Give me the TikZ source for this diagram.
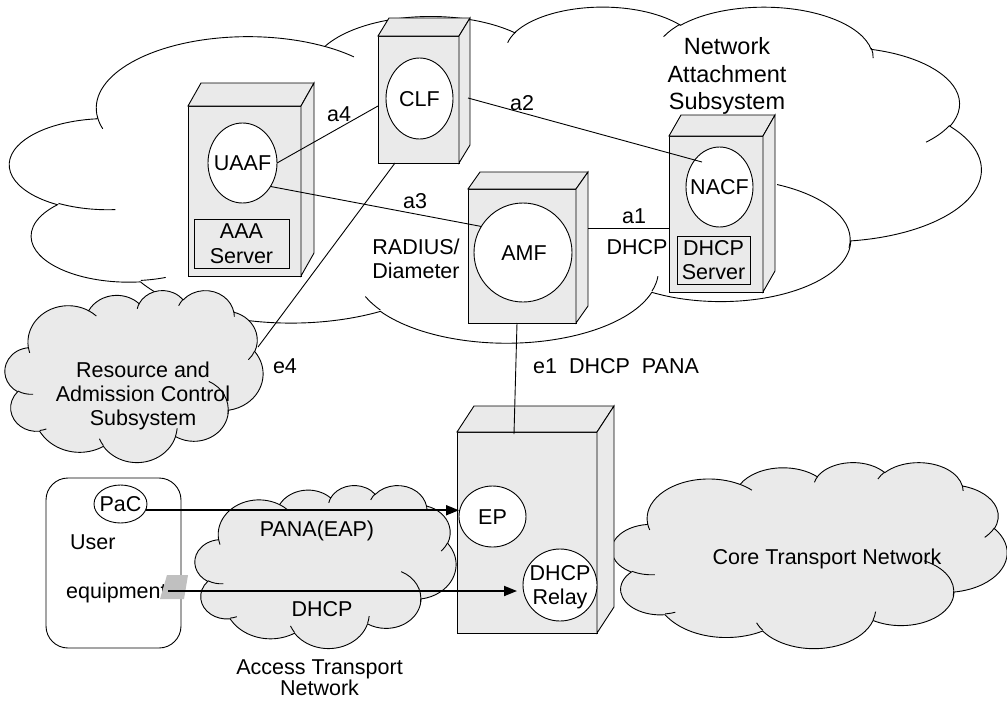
\documentclass[tikz,border=0pt]{standalone}
\usepackage{fontspec}
\setmainfont{Liberation Sans}
\usetikzlibrary{shapes.geometric,arrows.meta,calc}
\definecolor{boxgray}{RGB}{234,234,234}
\definecolor{chipgray}{RGB}{192,192,192}
\tikzset{
  carc/.style n args={4}{insert path={arc[start angle={atan2((#1)*sin(#3),(#2)*cos(#3))},
     delta angle={mod(atan2((#1)*sin((#3)+(#4)),(#2)*cos((#3)+(#4)))-atan2((#1)*sin(#3),(#2)*cos(#3))+720,360)},
     x radius=#1, y radius=#2]}},
  ln/.style={line width=0.9pt, draw=black},
  front/.style={ln, fill=boxgray, rectangle, inner sep=0pt, outer sep=0pt},
  face/.style={ln, fill=boxgray, line join=miter},
  func/.style={ln, fill=white, ellipse, inner sep=0pt, outer sep=0pt},
  tx/.style={font=\fontsize{21.5}{24}\selectfont, inner sep=0pt, align=center},
  one/.style={tx, text height=15.4pt, text depth=0pt},
  arr/.style={line width=1.8pt, -{Triangle[length=13pt,width=10pt]}},
}
\newcommand\ofcloud[6]{%
\begin{scope}[xshift=#2pt, yshift=-#3pt, x={(#4pt/432,0pt)}, y={(0pt,-#5pt/432)}]
\draw[ln, fill=#6] (39,143.7)
 [carc={67.53}{91.90}{-190.4875}{123.7805}]
 [carc={53.33}{72.67}{-144.1024}{89.9452}]
 [carc={43.65}{59.45}{-145.8079}{99.7230}]
 [carc={48.57}{65.95}{-130.9861}{117.2417}]
 [carc={53.33}{72.73}{-78.7089}{109.0269}]
 [carc={67.75}{92.20}{-46.2673}{130.2690}]
 [carc={57.85}{78.67}{0.6250}{114.0333}]
 [carc={67.52}{92.15}{22.4516}{115.1726}]
 [carc={77.20}{105.43}{66.2426}{75.7110}]
 [carc={43.60}{59.18}{-274.9421}{146.7356}]
 [carc={43.45}{59.45}{-246.8285}{152.5189}] -- cycle;
\draw[ln]
 (46.93,261.77) [carc={43.45}{59.45}{86.7420}{26.4295}]
 (69.28,348.99) [carc={43.60}{59.18}{73.6105}{11.4475}]
 (164.78,390.90) [carc={67.52}{92.15}{137.6242}{14.0811}]
 (288.27,347.51) [carc={67.52}{92.15}{6.4533}{15.9984}]
 (341.29,229.54) [carc={57.85}{78.67}{-70.2924}{80.7582}]
 (417.98,153.54) [carc={53.33}{72.73}{30.3215}{22.1031}]
 (383.24,54.26) [carc={48.57}{65.95}{-13.7443}{14.8620}]
 (290.78,39.52) [carc={48.57}{65.95}{-149.1815}{18.1969}]
 (221.41,47.20) [carc={43.65}{59.45}{-163.4943}{17.6981}]
 (140.00,51.92) [carc={67.53}{91.90}{-66.7069}{12.3194}]
 (41.27,157.89) [carc={67.53}{91.90}{157.6544}{11.8582}];
\coordinate (#1) at (216,216);
\end{scope}}
\newcommand\server[6]{%
\node[front, minimum width=#4pt, minimum height=#5pt] (#1) at (#2,#3) {};
\draw[face] (#1.north west) -- ++(#6) -- ($(#1.north east)+(#6)$) -- (#1.north east) -- cycle;
\draw[face] (#1.north east) -- ++(#6) -- ($(#1.south east)+(#6)$) -- (#1.south east) -- cycle;
}
\begin{document}
\begin{tikzpicture}[x=1pt,y=-1pt]
\fill[white] (0,0) rectangle (1007,702);
\useasboundingbox (0,0) rectangle (1007,702);

% clouds
\ofcloud{nas}{10}{6}{971}{336}{white}
\ofcloud{racs}{5}{290}{258}{172}{boxgray}
\ofcloud{atn}{195}{485}{261}{163}{boxgray}
\ofcloud{ctn}{612}{462}{395}{186}{boxgray}

% servers
\server{uaafbox}{244.5}{191}{113}{170}{13,-23}
\server{clfbox}{418.5}{99.5}{81}{127}{11,-18}
\server{nacfbox}{716}{214}{94}{156}{12,-21}
\server{amfbox}{522}{256}{108}{134}{12,-17}
\server{epbox}{527}{532.5}{140}{201}{17,-26}

\node[func, minimum width=69pt, minimum height=80pt] (uaaf) at (242.5,163) {};
\node[one] at (242.5,163) {UAAF};
\node[front, minimum width=95pt, minimum height=49pt] (aaa) at (241.5,243.5) {};
\node[tx, font=\fontsize{21.5}{24.5}\selectfont] at (241.5,243.5) {AAA\\Server};

\node[func, minimum width=67pt, minimum height=81pt] (clf) at (419.5,98.5) {};
\node[one] at (419.5,98.5) {CLF};

\node[func, minimum width=67pt, minimum height=80pt] (nacf) at (719.5,187) {};
\node[one] at (719.5,187) {NACF};
\node[front, minimum width=73pt, minimum height=48pt] (dhcps) at (713.5,260) {};
\node[tx] at (713.5,260) {DHCP\\Server};

\node[func, minimum width=98pt, minimum height=99pt] (amf) at (523,252.5) {};
\node[one] at (524,252.5) {AMF};

\node[func, minimum width=67pt, minimum height=61pt] (ep) at (492.5,516.5) {};
\node[one] at (492.5,516.5) {EP};
\node[func, minimum width=74pt, minimum height=72pt] (relay) at (560,585) {};
\node[tx] at (560,587) {DHCP\\Relay};

% user equipment
\node[ln, rectangle, rounded corners=22pt, minimum width=135pt, minimum height=170pt, inner sep=0pt] (uebox) at (113.5,563) {};
\node[func, minimum width=53pt, minimum height=38pt] (pac) at (120.5,504) {};
\node[one] at (120.5,504) {PaC};
\node[one, anchor=west] at (70,542) {User};
\node[one, anchor=west] at (66,591) {equipment};
\fill[chipgray] (167,575) -- (188,575) -- (184,599) -- (160,599) -- cycle;
\coordinate (chip) at (168,591);

% texts
\node[tx, font=\fontsize{23.5}{27.5}\selectfont] at (727,76) {Network\\Attachment\\Subsystem};
\node[tx] at (143,396) {Resource and\\Admission Control\\Subsystem};
\node[one] at (317,529) {PANA(EAP)};
\node[one] at (322,609) {DHCP};
\node[tx, font=\fontsize{21.5}{21.5}\selectfont] at (319.5,677.5) {Access Transport\\Network};
\node[one] at (827,557) {Core Transport Network};
\node[tx] at (416,258.5) {RADIUS/\\Diameter};
\node[one] at (339,114) {a4};
\node[one] at (415,201) {a3};
\node[one] at (522,103) {a2};
\node[one] at (634,216) {a1};
\node[one] at (637,247) {DHCP};
\node[one] at (285,366) {e4};
\node[one, anchor=west] at (533,366) {e1\ \ DHCP\ \ PANA};

% connectors
\coordinate (a2s) at (468,98);
\coordinate (a2e) at (702,162);
\coordinate (a1s) at (588,228);
\coordinate (e4e) at (258,347);
\draw[ln] (uaaf.east) -- ($(clfbox.west)+(0,6.5)$);
\draw[ln] (uaaf.-40) -- (amf.148);
\draw[ln] (a2s) -- (a2e);
\draw[ln] (a1s) -- (a1s -| nacfbox.west);
\draw[ln] ($(clfbox.south west)+(17,0)$) -- (e4e);
\draw[ln] ($(amfbox.south)+(-5,0)$) -- ($(epbox.north)+(-13,2)$);
\draw[arr] (pac.-14) -- (pac.-14 -| ep.west);
\draw[arr, shorten >=6pt] (chip) -- (chip -| relay.west);
\end{tikzpicture}
\end{document}
